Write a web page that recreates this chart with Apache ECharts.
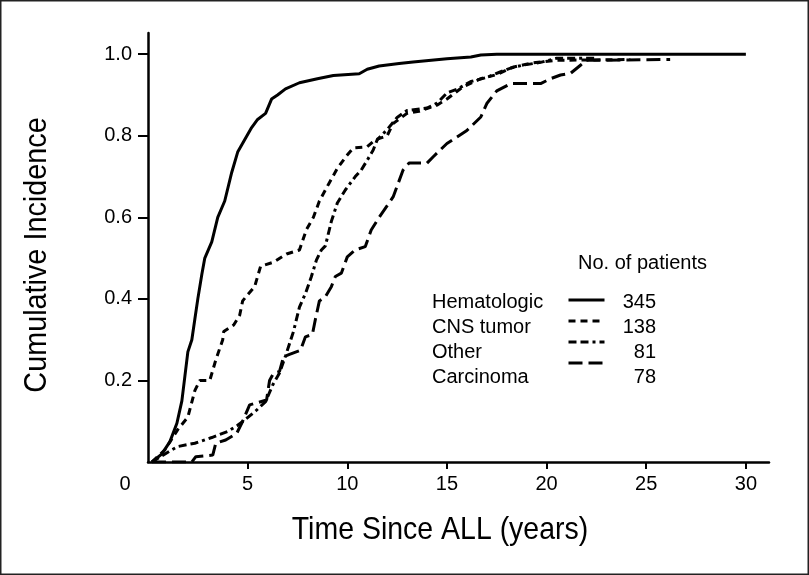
<!DOCTYPE html>
<html>
<head>
<meta charset="utf-8">
<script src="https://cdn.jsdelivr.net/npm/echarts@6/dist/echarts.min.js"></script>
<style>
html,body{margin:0;padding:0;background:#fff;}
#chart{width:809px;height:575px;}
</style>
</head>
<body>
<div id="chart"></div>
<script>
// ---- data (years since ALL, cumulative incidence) ----
const seriesNames = ['Hematologic', 'CNS tumor', 'Other', 'Carcinoma'];
const patientCounts = [345, 138, 81, 78];
const xTickLabels = [0, 5, 10, 15, 20, 25, 30];
const yTickLabels = [0.2, 0.4, 0.6, 0.8, 1.0];
const xTitle = 'Time Since ALL (years)';
const yTitle = 'Cumulative Incidence';
const legendTitle = 'No. of patients';

const hematologic = [[0.2,0],[0.7,0.02],[1.1,0.05],[1.45,0.095],[1.7,0.15],[1.85,0.21],[2.0,0.27],[2.2,0.3],[2.35,0.35],[2.5,0.4],[2.7,0.46],[2.85,0.5],[3.2,0.54],[3.5,0.6],[3.85,0.64],[4.2,0.71],[4.5,0.76],[4.85,0.79],[5.2,0.82],[5.5,0.84],[5.9,0.855],[6.2,0.89],[6.5,0.9],[6.9,0.915],[7.6,0.93],[8.5,0.94],[9.3,0.948],[10.6,0.952],[11.0,0.963],[11.6,0.971],[12.6,0.977],[13.3,0.981],[15.0,0.989],[16.2,0.993],[16.7,0.998],[17.5,1.0],[30,1.0]];

const cnsTumor = [[0.2,0],[0.85,0.03],[1.5,0.08],[2.0,0.11],[2.35,0.175],[2.6,0.2],[3.1,0.2],[3.25,0.225],[3.4,0.25],[3.75,0.3],[3.8,0.32],[4.3,0.336],[4.6,0.36],[4.75,0.395],[5.0,0.41],[5.35,0.43],[5.65,0.48],[6.3,0.49],[6.95,0.51],[7.6,0.52],[7.95,0.57],[8.3,0.6],[8.6,0.64],[9.1,0.685],[9.5,0.72],[9.95,0.75],[10.3,0.77],[11.0,0.773],[11.4,0.79],[12.0,0.8],[12.3,0.83],[13.0,0.855],[13.6,0.86],[14.5,0.875],[15.0,0.89],[15.8,0.92],[16.7,0.94],[17.5,0.95],[18.3,0.968],[19.2,0.978],[20.5,0.985],[24.2,0.987]];

const other = [[0.2,0],[1.2,0.03],[1.5,0.038],[2.35,0.046],[3.2,0.06],[4.0,0.075],[4.5,0.09],[4.9,0.105],[5.4,0.125],[5.9,0.148],[6.27,0.19],[6.6,0.218],[6.9,0.26],[7.1,0.29],[7.3,0.32],[7.6,0.38],[7.9,0.413],[8.2,0.455],[8.45,0.495],[8.7,0.52],[8.9,0.53],[9.2,0.59],[9.5,0.635],[9.9,0.667],[10.4,0.7],[10.7,0.716],[11.0,0.74],[11.3,0.765],[11.5,0.79],[12.0,0.815],[12.5,0.845],[13.0,0.862],[14.0,0.868],[14.5,0.88],[15.0,0.905],[15.5,0.914],[16.2,0.933],[17.0,0.943],[17.7,0.957],[18.2,0.966],[18.8,0.973],[19.7,0.98],[20.5,0.99],[22.5,0.99]];

const carcinoma = [[0.2,0],[2.2,0],[2.4,0.013],[3.25,0.017],[3.4,0.046],[3.9,0.054],[4.45,0.07],[4.75,0.1],[5.1,0.14],[5.95,0.152],[6.1,0.2],[6.3,0.218],[6.6,0.222],[6.8,0.258],[7.1,0.264],[7.65,0.274],[7.9,0.307],[8.25,0.313],[8.4,0.35],[8.6,0.395],[8.9,0.405],[9.2,0.43],[9.4,0.455],[9.7,0.463],[10.0,0.503],[10.4,0.52],[10.9,0.528],[11.2,0.569],[11.6,0.6],[12.3,0.65],[12.8,0.716],[13.1,0.733],[14.0,0.733],[14.3,0.748],[15.0,0.781],[15.5,0.797],[16.0,0.813],[16.7,0.846],[17.0,0.879],[17.5,0.91],[18.2,0.928],[19.7,0.928],[20.2,0.94],[20.7,0.949],[21.2,0.953],[21.7,0.973],[22.0,0.985],[26.2,0.987]];

const seriesData = [hematologic, cnsTumor, other, carcinoma];
const dashTypes = ['solid', [7,5], [8,4,8,4,3,4], [14,6]];

// ---- chart ----
const FONT = "'Liberation Sans', Arial, sans-serif";
const chart = echarts.init(document.getElementById('chart'), null, {renderer: 'canvas'});

const countByName = {};
seriesNames.forEach((n, i) => countByName[n] = patientCounts[i]);

const baseLegend = {
  orient: 'vertical',
  top: 292,
  padding: 0,
  itemHeight: 20,
  itemGap: 5,
  selectedMode: false,
  data: seriesNames,
  textStyle: {fontSize: 20, fontFamily: FONT, color: '#000', lineHeight: 20}
};

const option = {
  animation: false,
  backgroundColor: '#fff',
  grid: {left: 148, right: 40, top: 33, bottom: 113, containLabel: false},
  title: {
    text: legendTitle,
    left: 578, top: 253, padding: 0,
    textStyle: {fontSize: 20, fontWeight: 'normal', fontFamily: FONT, color: '#000'}
  },
  legend: [
    Object.assign({}, baseLegend, {
      left: 427, itemWidth: 0, icon: 'rect',
      itemStyle: {opacity: 0}, lineStyle: {opacity: 0, width: 0}
    }),
    Object.assign({}, baseLegend, {
      left: 567, itemWidth: 36,
      formatter: () => '',
      itemStyle: {opacity: 0},
      lineStyle: {width: 3}
    }),
    Object.assign({}, baseLegend, {
      left: 615, itemWidth: 0, icon: 'rect',
      itemStyle: {opacity: 0}, lineStyle: {opacity: 0, width: 0},
      formatter: n => '{n|' + countByName[n] + '}',
      textStyle: {fontSize: 20, fontFamily: FONT, color: '#000', lineHeight: 20,
        rich: {n: {width: 36, align: 'right', fontSize: 20, fontFamily: FONT, color: '#000'}}}
    })
  ],
  xAxis: {
    type: 'value', min: 0, max: 31.16,
    splitLine: {show: false},
    axisLine: {show: true, onZero: false, lineStyle: {color: '#000', width: 2.5}},
    axisTick: {show: true, length: 7, lineStyle: {color: '#000', width: 2}, customValues: xTickLabels.filter(v => v > 0)},
    axisLabel: {
      customValues: xTickLabels, margin: 12, fontSize: 20, fontFamily: FONT, color: '#000',
      formatter: v => v === 0 ? '{z|0}' : String(v),
      rich: {z: {padding: [0, 46, 0, 0], fontSize: 20, fontFamily: FONT, color: '#000'}}
    }
  },
  yAxis: {
    type: 'value', min: 0, max: 1.052, interval: 0.2,
    splitLine: {show: false},
    axisLine: {show: true, onZero: false, lineStyle: {color: '#000', width: 2.5}},
    axisTick: {show: true, length: 10, lineStyle: {color: '#000', width: 2}, customValues: yTickLabels},
    axisLabel: {
      customValues: yTickLabels, margin: 16, fontSize: 20, fontFamily: FONT, color: '#000',
      formatter: v => v.toFixed(1)
    }
  },
  graphic: [
    {
      type: 'rect', shape: {x: 0.75, y: 0.75, width: 807.5, height: 573.5},
      style: {fill: 'none', stroke: '#222', lineWidth: 1.5}, silent: true
    },
    {
      type: 'text', x: 440, y: 530, scaleX: 0.89, silent: true,
      style: {text: xTitle, fontSize: 32, fontFamily: FONT, fill: '#000', align: 'center', verticalAlign: 'middle'}
    },
    {
      type: 'text', x: 37, y: 255, rotation: Math.PI / 2, scaleX: 0.9, silent: true,
      style: {text: yTitle, fontSize: 32, fontFamily: FONT, fill: '#000', align: 'center', verticalAlign: 'middle'}
    }
  ],
  series: seriesNames.map((name, i) => ({
    type: 'line', name: name, data: seriesData[i],
    symbol: 'none', showSymbol: false, smooth: false,
    lineStyle: {color: '#000', width: 3, type: dashTypes[i], cap: 'butt'},
    itemStyle: {color: '#000'},
    emphasis: {disabled: true}
  }))
};

chart.setOption(option);
</script>
</body>
</html>
